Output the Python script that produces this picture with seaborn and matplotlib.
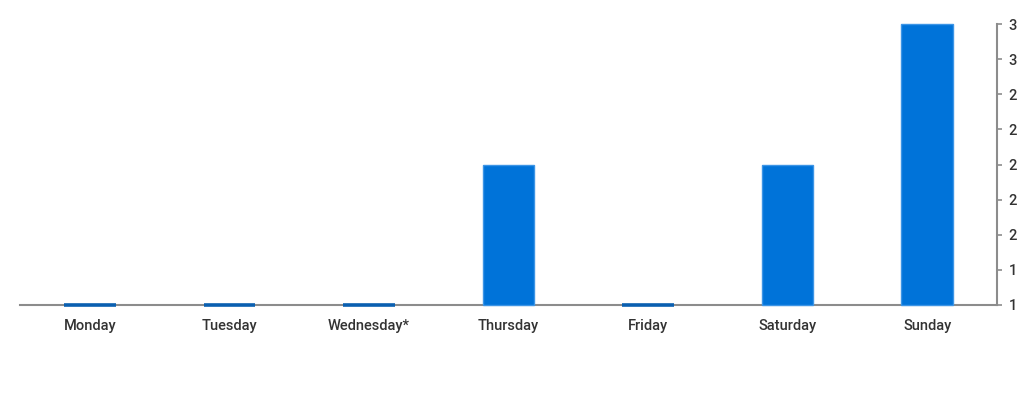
import numpy as np
import pandas as pd
import matplotlib
matplotlib.use("Agg")
import matplotlib.pyplot as plt
import seaborn as sns

days = ["Monday", "Tuesday", "Wednesday*", "Thursday", "Friday", "Saturday", "Sunday"]
counts = [1, 1, 1, 2, 1, 2, 3]
y_ticks = [1, 1.25, 1.5, 1.75, 2, 2.25, 2.5, 2.75, 3]

sns.set_style("white")
plt.rcParams["font.family"] = ["Roboto", "DejaVu Sans"]
plt.rcParams["font.weight"] = "medium"

df = pd.DataFrame({"day": days, "count": counts})

fig = plt.figure(figsize=(10.24, 4), dpi=100)
ax = fig.add_axes([20 / 1024, 95 / 400, 977 / 1024, 281 / 400])

bar_color = "#0073d9"
sns.barplot(data=df, x="day", y="count", color=bar_color, width=0.37,
            saturation=1, ax=ax, edgecolor="#3d95e6", linewidth=1.0, zorder=3)
# axis starts at 1, so the bars start there too
for p in ax.patches:
    h = p.get_height()
    p.set_y(1)
    p.set_height(h - 1)
    p.set_clip_on(False)
    if h - 1 == 0:
        p.set_edgecolor("#0a5fb0")
        p.set_linewidth(2.6)

ax.set_ylim(1, 3)
ax.set_xlim(-0.5, len(days) - 0.5)
ax.set_yticks(y_ticks)
ax.set_yticklabels([f"{v:.0f}" for v in y_ticks])
ax.yaxis.tick_right()
ax.set_xlabel("")
ax.set_ylabel("")

for s in ["top", "left"]:
    ax.spines[s].set_visible(False)
for s in ["bottom", "right"]:
    ax.spines[s].set_color("#8c8c8c")
    ax.spines[s].set_linewidth(1.5)
    ax.spines[s].set_zorder(2)

ax.set_xticks(np.arange(-0.5, len(days), 1), minor=True)
ax.tick_params(axis="x", which="major", length=0, pad=10, labelsize=10.5, labelcolor="#333333")
ax.tick_params(axis="x", which="minor", length=5, width=1.2, color="#8c8c8c", direction="out")
ax.tick_params(axis="y", which="major", length=3.5, width=1.2, color="#8c8c8c",
               pad=5, labelsize=10.5, labelcolor="#333333", right=True, left=False)

fig.savefig("out.png", dpi=100)
